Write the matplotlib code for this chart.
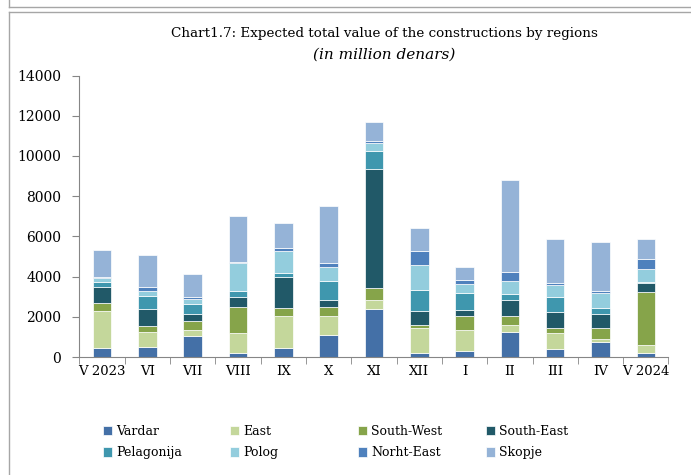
import numpy as np
import matplotlib.pyplot as plt
from matplotlib.lines import Line2D

months = ['V 2023', 'VI', 'VII', 'VIII', 'IX', 'X', 'XI', 'XII', 'I', 'II', 'III', 'IV', 'V 2024']
regions = ['Vardar', 'East', 'South-West', 'South-East', 'Pelagonija', 'Polog', 'Norht-East', 'Skopje']

vardar = [460, 480, 1045, 200, 430, 1080, 2390, 215, 300, 1225, 380, 745, 180]
east = [1810, 760, 280, 1010, 1625, 980, 450, 1210, 1030, 365, 810, 150, 400]
south_west = [400, 300, 480, 1260, 400, 415, 580, 150, 730, 465, 250, 530, 2650]
south_east = [810, 850, 315, 515, 1510, 380, 5950, 710, 265, 780, 800, 700, 450]
pelagonija = [230, 660, 530, 280, 230, 910, 880, 1030, 880, 315, 745, 330, 65]
polog = [200, 230, 230, 1410, 1060, 700, 400, 1280, 430, 630, 600, 745, 650]
north_east = [80, 215, 80, 70, 180, 200, 80, 660, 200, 450, 100, 80, 500]
skopje = [1310, 1590, 1180, 2290, 1230, 2870, 980, 1145, 660, 4590, 2170, 2420, 960]

series = [vardar, east, south_west, south_east, pelagonija, polog, north_east, skopje]
colors = ['#4470a7', '#c4d79b', '#86a44a', '#215968', '#3f97ae', '#93cddd', '#4f81bd', '#95b3d7']

plt.rcParams['font.family'] = ['DejaVu Serif']
fig = plt.figure(figsize=(6.91, 4.75), dpi=100)
ax = fig.add_axes([0.1148, 0.2484, 0.8526, 0.5926])

x = np.arange(len(months))
bottom = np.zeros(len(months))
handles = []
for name, vals, c in zip(regions, series, colors):
    b = ax.bar(x, vals, 0.41, bottom=bottom, color=c, edgecolor='white', linewidth=0.5, label=name)
    handles.append(b)
    bottom += np.array(vals)

grey = '#868686'
ax.set_xlim(-0.5, len(months) - 0.5)
ax.set_ylim(0, 14000)
ax.set_yticks(range(0, 14001, 2000))
ax.set_xticks(x)
ax.set_xticklabels(months)
ax.set_xticks(np.arange(-0.5, len(months), 1), minor=True)
ax.tick_params(axis='x', which='major', length=0, pad=6, labelsize=9.5)
ax.tick_params(axis='x', which='minor', length=5, color=grey, direction='out')
ax.tick_params(axis='y', length=5, color=grey, direction='out', pad=8, labelsize=10)
for s in ['top', 'right']:
    ax.spines[s].set_visible(False)
for s in ['left', 'bottom']:
    ax.spines[s].set_color(grey)

fig.text(0.556, 0.93, 'Chart1.7: Expected total value of the constructions by regions',
         ha='center', va='center', fontsize=9.7)
fig.text(0.556, 0.884, '(in million denars)', ha='center', va='center', fontsize=11, style='italic')

# legend, 4 columns with even spacing
col_x = [0.149, 0.333, 0.518, 0.703]
for i in range(4):
    leg = fig.legend([handles[i], handles[i + 4]], [regions[i], regions[i + 4]],
                     loc='upper left', bbox_to_anchor=(col_x[i], 0.106), frameon=False,
                     fontsize=9, handlelength=0.75, handleheight=0.75, handletextpad=0.3,
                     labelspacing=0.7, borderaxespad=0, borderpad=0)

# frame lines
fl = dict(color='#a6a6a6', linewidth=1.0)
fig.add_artist(Line2D([9 / 691, 1], [1 - 12 / 475, 1 - 12 / 475], transform=fig.transFigure, **fl))
fig.add_artist(Line2D([9 / 691, 9 / 691], [1 - 12 / 475, 0], transform=fig.transFigure, **fl))
fig.add_artist(Line2D([9 / 691, 1], [1 - 7 / 475, 1 - 7 / 475], transform=fig.transFigure, **fl))
fig.add_artist(Line2D([9 / 691, 9 / 691], [1 - 7 / 475, 1], transform=fig.transFigure, **fl))

fig.savefig('out.png', dpi=100)
